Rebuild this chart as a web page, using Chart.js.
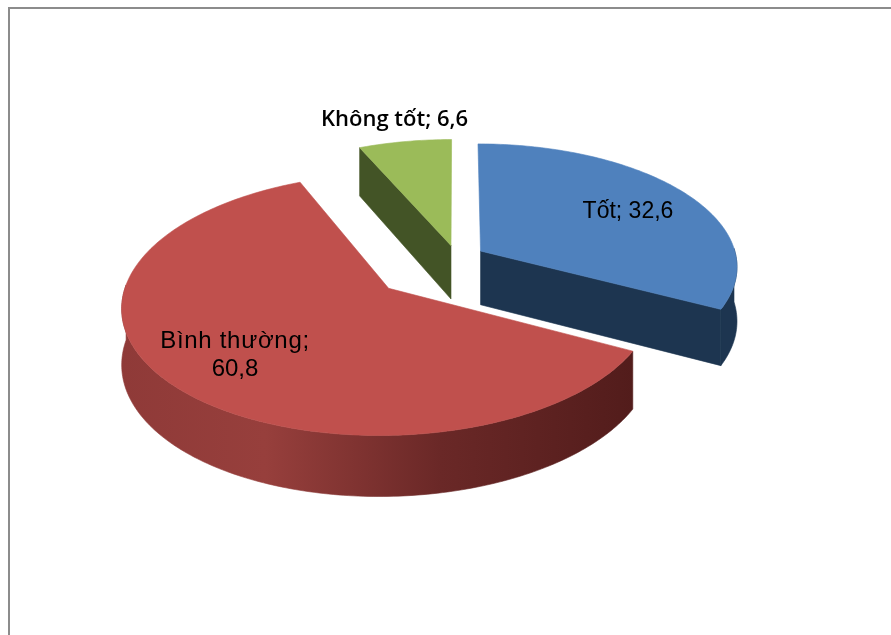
<!DOCTYPE html>
<html lang="vi">
<head>
<meta charset="utf-8">
<title>Đánh giá</title>
<style>
  html, body { margin: 0; padding: 0; background: #fff; overflow: hidden; }
  #wrap { position: relative; width: 891px; height: 635px; overflow: hidden; }
  #frame { position: absolute; left: 8px; top: 7px; width: 900px; height: 660px;
           border: 2px solid #8c8c8c; box-sizing: border-box; }
  canvas { position: absolute; left: 0; top: 0; }
</style>
<script src="https://cdn.jsdelivr.net/npm/chart.js@4"></script>
</head>
<body>
<div id="wrap">
  <div id="frame"></div>
  <canvas id="chart" width="891" height="635"></canvas>
</div>
<script>
// Survey shares, in the order the slices run clockwise from twelve o'clock.
const categories = ['Tốt', 'Bình thường', 'Không tốt'];
const shares = [32.6, 60.8, 6.6];

const topColors = ['#4f81bd', '#c0504d', '#9bbb59'];
const edgeColors = ['#1d3550', '#5a1f1e', '#435426'];
const explode = [10.5, 33.5, 10];          // how far each slice is pulled out

// Camera used to tip the flat pie back into a thick disc.
const VIEW = {
  cx: 456.5, cy: 258, // where the pie's centre lands on the page
  radius: 256,        // slice radius on the page, at the centre's depth
  tilt: 0.475,        // vertical squash of the disc
  distance: 2130,     // viewing distance that gives the front its extra size
  thickness: 54,      // wall height at the centre's depth
  taper: 0.022        // walls grow a little toward the viewer
};

const project = (u, v, walled = false) => {
  const s = 1 / (1 - v / VIEW.distance);
  const drop = walled ? VIEW.thickness + v * VIEW.taper : 0;
  return { x: VIEW.cx + u * s, y: VIEW.cy + v * VIEW.tilt * s + drop };
};

// Label text is anchored on the page; lines are centred on the anchor.
const labelAnchors = [
  { x: 628, y: 212, font: '23px "Liberation Sans"' },
  { x: 235, y: 341, font: '24px "Liberation Sans"', spacing: '0.7px', wrap: true },
  { x: 394.5, y: 120, font: '600 22px "Open Sans"' }
];

const disc3d = {
  id: 'disc3d',
  // The library has already turned each share into an arc's angles and radius;
  // here those angles are drawn through the camera instead of flat.
  beforeDatasetDraw(chart, args) {
    const { ctx } = chart;
    const arcs = chart.getDatasetMeta(args.index).data;
    const order = [2, 0, 1];
    order.forEach(i => paintSlice(ctx, arcs[i], i));
    return false;
  },
  afterDatasetsDraw(chart) {
    const { ctx } = chart;
    ctx.save();
    ctx.fillStyle = '#000';
    ctx.textAlign = 'center';
    ctx.textBaseline = 'middle';
    categories.forEach((name, i) => {
      const a = labelAnchors[i];
      const value = String(shares[i]).replace('.', ',');
      ctx.font = a.font;
      if (a.wrap) {
        ctx.letterSpacing = a.spacing;
        ctx.fillText(name + ';', a.x, a.y);
        ctx.letterSpacing = '0px';
        ctx.fillText(value, a.x, a.y + 28);
      } else {
        ctx.fillText(name + '; ' + value, a.x, a.y);
      }
    });
    ctx.restore();
  }
};

function paintSlice(ctx, arc, i) {
  const { startAngle, endAngle, outerRadius } = arc.getProps(['startAngle', 'endAngle', 'outerRadius'], true);
  const unit = VIEW.radius / outerRadius;
  const mid = (startAngle + endAngle) / 2;
  const ox = Math.cos(mid) * explode[i] * 2.7;
  const oy = Math.sin(mid) * explode[i] * 2.7;
  const steps = Math.max(8, Math.ceil((endAngle - startAngle) * 60));
  const rim = [];
  const frontRim = [];
  for (let k = 0; k <= steps; k++) {
    const t = startAngle + (endAngle - startAngle) * k / steps;
    const p = [ox + Math.cos(t) * outerRadius * unit, oy + Math.sin(t) * outerRadius * unit];
    rim.push(p);
    if (Math.sin(t) > -0.03) frontRim.push(p);
  }
  const apex = [ox, oy];

  const trace = (points, walled) => points.map(p => project(p[0], p[1], walled));
  const fillPoly = (pts, style) => {
    ctx.beginPath();
    pts.forEach((p, n) => n ? ctx.lineTo(p.x, p.y) : ctx.moveTo(p.x, p.y));
    ctx.closePath();
    ctx.fillStyle = style;
    ctx.fill();
    ctx.strokeStyle = style;
    ctx.lineWidth = 0.6;
    ctx.stroke();
  };

  // flat cut faces, only where they turn toward the viewer
  const faces = [[rim[0], Math.sin(startAngle - Math.PI / 2)], [rim[steps], Math.sin(endAngle + Math.PI / 2)]];
  faces.forEach(([end, facing]) => {
    if (facing < 0.01) return;
    const line = [apex, end];
    fillPoly(trace(line, false).concat(trace(line, true).reverse()), edgeColors[i]);
  });

  // curved outer wall; the red slice picks up a left-to-right shading
  let wall = edgeColors[i];
  if (i === 1) {
    const g = ctx.createLinearGradient(121, 0, 636, 0);
    g.addColorStop(0, '#8f3a38');
    g.addColorStop(0.28, '#973f3c');
    g.addColorStop(0.62, '#6a2827');
    g.addColorStop(1, '#521c1b');
    wall = g;
  }
  if (frontRim.length > 1) {
    fillPoly(trace(frontRim, false).concat(trace(frontRim, true).reverse()), wall);
  }

  // top face
  fillPoly(trace([apex, ...rim, apex], false), topColors[i]);
}

new Chart(document.getElementById('chart'), {
  type: 'pie',
  data: {
    labels: categories,
    datasets: [{ data: shares, backgroundColor: topColors, borderWidth: 0 }]
  },
  options: {
    responsive: false,
    animation: false,
    plugins: { legend: { display: false }, tooltip: { enabled: false } }
  },
  plugins: [disc3d]
});
</script>
</body>
</html>
